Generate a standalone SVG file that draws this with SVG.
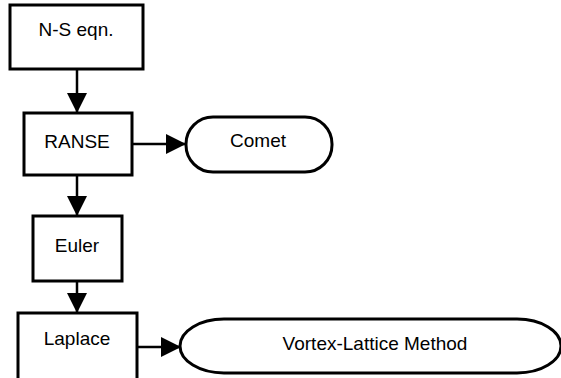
<svg xmlns="http://www.w3.org/2000/svg" width="561" height="378" viewBox="0 0 561 378">
<defs>
<style>
.box{fill:#fff;stroke:#000;stroke-width:3}
.lbl{font-family:"Liberation Sans",Arial,sans-serif;font-size:19px;fill:#000;text-anchor:middle}
.con{stroke:#000;stroke-width:2.5;fill:none}
</style>
<marker id="ah" markerUnits="userSpaceOnUse" markerWidth="20" markerHeight="20" refX="20" refY="10" orient="auto" viewBox="0 0 20 20">
<path d="M0,0 L20,10 L0,20 Z" fill="#000"/>
</marker>
</defs>
<rect width="561" height="378" fill="#fff"/>
<g id="connectors">
<line class="con" x1="77" y1="69" x2="77" y2="113" marker-end="url(#ah)"/>
<line class="con" x1="132" y1="144" x2="186" y2="144" marker-end="url(#ah)"/>
<line class="con" x1="77" y1="175" x2="77" y2="216" marker-end="url(#ah)"/>
<line class="con" x1="77" y1="281" x2="77" y2="313" marker-end="url(#ah)"/>
<line class="con" x1="137" y1="347" x2="181" y2="347" marker-end="url(#ah)"/>
</g>
<g id="ns">
<rect class="box" x="10" y="5" width="133" height="64"/>
<text class="lbl" x="76" y="36">N-S eqn.</text>
</g>
<g id="ranse">
<rect class="box" x="24" y="113" width="108" height="62"/>
<text class="lbl" x="77" y="148">RANSE</text>
</g>
<g id="comet">
<rect class="box" x="186" y="117" width="146" height="55" rx="27" ry="27"/>
<text class="lbl" x="258" y="147">Comet</text>
</g>
<g id="euler">
<rect class="box" x="33" y="216" width="89" height="65"/>
<text class="lbl" x="77" y="252">Euler</text>
</g>
<g id="laplace">
<rect class="box" x="18" y="313" width="119" height="70"/>
<text class="lbl" x="77" y="345">Laplace</text>
</g>
<g id="vlm">
<rect class="box" x="180" y="319" width="381" height="54" rx="44" ry="27"/>
<text class="lbl" x="375" y="350">Vortex-Lattice Method</text>
</g>
</svg>
